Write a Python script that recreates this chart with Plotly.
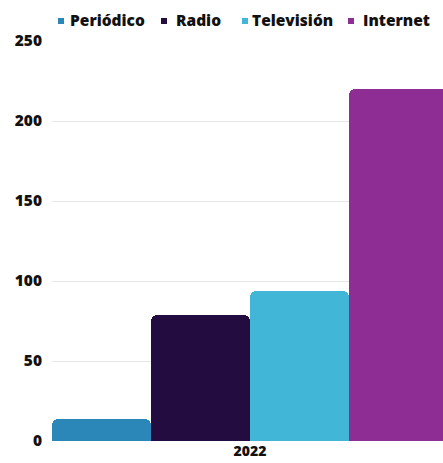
import plotly.graph_objects as go

categories = ["2022"]
series_names = ["Periódico", "Radio", "Televisión", "Internet"]
periodico = [14]
radio = [79]
television = [94]
internet = [220]
series_values = [periodico, radio, television, internet]
colors = ["#2A87B8", "#220C40", "#41B6D6", "#8E2D94"]
y_ticks = [0, 50, 100, 150, 200, 250]

fig = go.Figure()
for name, vals, col in zip(series_names, series_values, colors):
    fig.add_trace(go.Bar(x=categories, y=vals, name=name, marker_color=col,
                         marker_line_width=0, showlegend=False))

# legend drawn as small squares + bold labels
left_px = 52
top_px = 41
plot_h = 463 - top_px - 22
plot_w = 443 - left_px
square_px = [58, 161, 242, 348]
text_px = [68, 174, 250, 361]
for name, col, sx, tx in zip(series_names, colors, square_px, text_px):
    fig.add_shape(
        type="rect", xref="paper", yref="paper",
        xsizemode="pixel", ysizemode="pixel",
        xanchor=(sx - left_px) / plot_w, yanchor=1 + (top_px - 21) / plot_h,
        x0=0, x1=6, y0=-3, y1=3,
        fillcolor=col, line_width=0,
    )
    fig.add_annotation(
        xref="paper", yref="paper",
        x=(tx - left_px) / plot_w, y=1.0, yshift=21,
        xanchor="left", yanchor="middle", showarrow=False,
        text=name,
        font=dict(family="Open Sans", size=15.5, color="#111111", weight=800),
    )

fig.update_layout(
    width=443, height=463,
    margin=dict(l=left_px, r=0, t=top_px, b=22),
    paper_bgcolor="white", plot_bgcolor="white",
    barmode="group", bargap=0, bargroupgap=0, barcornerradius=6,
    showlegend=False,
    font=dict(family="Open Sans", size=15, color="#111111", weight=800),
)
fig.update_xaxes(type="category", range=[-0.5, -0.5 + plot_w / 396],
                 showgrid=False, showline=False, ticks="",
                 tickfont=dict(family="Open Sans", size=14, color="#111111", weight=800))
fig.update_yaxes(range=[0, 250], tickvals=y_ticks, showgrid=True,
                 gridcolor="#e6e6e6", gridwidth=1, zeroline=False, showline=False,
                 ticks="", ticklabelstandoff=9,
                 tickfont=dict(family="Open Sans", size=15.5, color="#111111", weight=800))

fig.write_html("out.html", config={"displayModeBar": False},
               post_script="document.body.style.margin='0';")
